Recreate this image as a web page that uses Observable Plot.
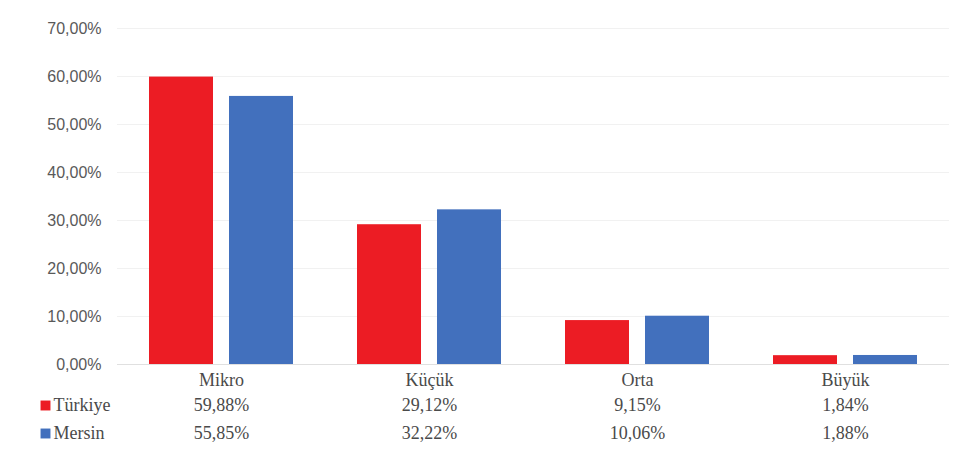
<!DOCTYPE html>
<html>
<head>
<meta charset="utf-8">
<script src="https://cdn.jsdelivr.net/npm/d3@7"></script>
<script src="https://cdn.jsdelivr.net/npm/@observablehq/plot@0.6"></script>
<style>
  html, body { margin: 0; padding: 0; background: #fff; }
</style>
</head>
<body>
<div id="chart"></div>
<script>
const categories = ["Mikro", "Küçük", "Orta", "Büyük"];
const series = ["Türkiye", "Mersin"];
const turkiye = [59.88, 29.12, 9.15, 1.84];
const mersin = [55.85, 32.22, 10.06, 1.88];
const yTicks = [0, 10, 20, 30, 40, 50, 60, 70];
const colors = ["#ec1c24", "#4270bd"];

const locale = d3.formatLocale({decimal: ",", thousands: ".", grouping: [3], currency: ["", ""]});
const fmt2 = locale.format(".2f");
const pct = v => fmt2(v) + "%";

const data = categories.flatMap((c, i) => [
  {cat: c, series: series[0], value: turkiye[i]},
  {cat: c, series: series[1], value: mersin[i]}
]);
const legendRows = [{cat: categories[0], series: series[0]}, {cat: categories[0], series: series[1]}];

const serif = "'Liberation Serif', 'Times New Roman', serif";
const sans = "'Liberation Sans', Arial, sans-serif";
const textColor = "#4a4a4a";
const rowDy = [41, 69];

const chart = Plot.plot({
  width: 975,
  height: 457,
  marginLeft: 117,
  marginRight: 26,
  marginTop: 28,
  marginBottom: 93,
  style: {background: "#fff", fontFamily: serif},
  fx: {domain: categories, padding: 0, label: null, axis: null},
  x: {domain: series, axis: null, paddingInner: 0.2, paddingOuter: 0.384},
  y: {domain: [0, 70], label: null, axis: null},
  color: {domain: series, range: colors},
  marks: [
    Plot.gridY(yTicks.slice(1), {stroke: "#f1f1f1", strokeOpacity: 1}),
    Plot.ruleY([0], {stroke: "#e0e0e0"}),
    Plot.barY(data, {fx: "cat", x: "series", y: "value", fill: "series"}),
    Plot.axisY({ticks: yTicks, tickSize: 0, tickPadding: 16, tickFormat: pct, fontFamily: sans, fontSize: 16, fill: "#595959", label: null}),
    Plot.axisFx({anchor: "bottom", tickSize: 0, tickPadding: 9, fontFamily: serif, fontSize: 18, fill: textColor, label: null}),
    ...series.map((s, j) => Plot.text(data.filter(d => d.series === s), {
      fx: "cat", text: d => pct(d.value), frameAnchor: "bottom", dy: rowDy[j],
      lineAnchor: "middle", fontFamily: serif, fontSize: 18, fill: textColor
    })),
    ...series.map((s, j) => Plot.dot(legendRows.filter(d => d.series === s), {
      fx: "cat", frameAnchor: "bottom-left", dx: -72, dy: rowDy[j],
      symbol: "square", r: 5.6, fill: "series", stroke: null
    })),
    ...series.map((s, j) => Plot.text(legendRows.filter(d => d.series === s), {
      fx: "cat", text: "series", frameAnchor: "bottom-left", textAnchor: "start", dx: -64, dy: rowDy[j],
      lineAnchor: "middle", fontFamily: serif, fontSize: 18, fill: textColor
    }))
  ]
});
document.getElementById("chart").append(chart);
</script>
</body>
</html>
